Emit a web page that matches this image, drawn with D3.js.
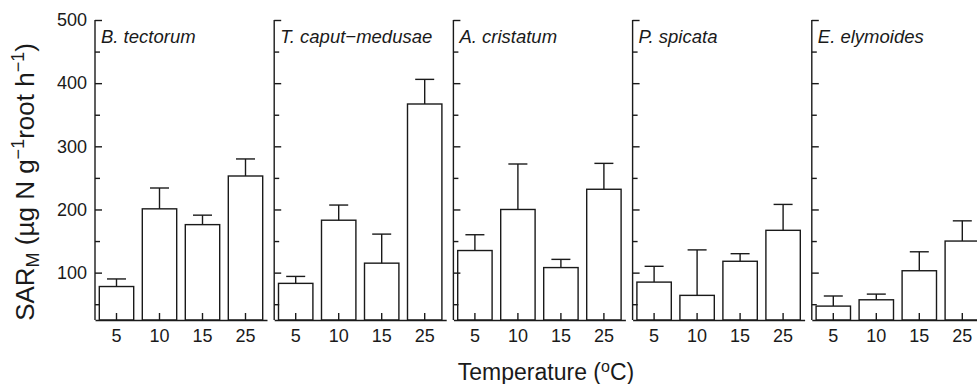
<!DOCTYPE html>
<html>
<head>
<meta charset="utf-8">
<script src="https://cdn.jsdelivr.net/npm/d3@7"></script>
<style>
  body { margin: 0; background: #fff; }
  text { font-family: "Liberation Sans", Arial, sans-serif; fill: #1a1a1a; }
</style>
</head>
<body>
<div id="chart"></div>
<script>
// panels, one per species
const species = ["B. tectorum", "T. caput\u2212medusae", "A. cristatum", "P. spicata", "E. elymoides"];
const temps = ["5", "10", "15", "25"];

// mean SAR_M per temperature, one array per species
const meanTectorum = [78, 201, 176, 253];
const meanCaput = [83, 183, 115, 367];
const meanCristatum = [135, 200, 108, 232];
const meanSpicata = [85, 64, 118, 167];
const meanElymoides = [47, 57, 103, 150];

// error bar length (upper side only)
const errTectorum = [12, 33, 15, 27];
const errCaput = [11, 24, 46, 39];
const errCristatum = [25, 72, 13, 41];
const errSpicata = [25, 72, 12, 41];
const errElymoides = [16, 9, 30, 32];

const yMajor = [100, 200, 300, 400, 500];
const yMinor = [50, 150, 250, 350, 450];

const means = [meanTectorum, meanCaput, meanCristatum, meanSpicata, meanElymoides];
const errs = [errTectorum, errCaput, errCristatum, errSpicata, errElymoides];

const width = 977, height = 384;
const svg = d3.select("#chart").append("svg")
    .attr("width", width)
    .attr("height", height);

const marginLeft = 95, plotTop = 20, plotBottom = 320;
const panelStep = 179.2, panelWidth = 172;
const ink = "#1a1a1a";

const y = d3.scaleLinear().domain([25, 500]).range([plotBottom, plotTop]);
const x = d3.scaleBand().domain(temps).range([0, panelWidth]).paddingInner(0.2).paddingOuter(0.1);

species.forEach(function(name, i) {
    const g = svg.append("g").attr("transform", `translate(${marginLeft + i * panelStep},0)`);

    // bars
    g.selectAll(".bar")
        .data(temps)
        .join("rect")
        .attr("class", "bar")
        .attr("x", d => x(d))
        .attr("width", x.bandwidth())
        .attr("y", (d, j) => y(means[i][j]))
        .attr("height", (d, j) => plotBottom - y(means[i][j]))
        .attr("fill", "#fff")
        .attr("stroke", ink)
        .attr("stroke-width", 1.4);

    // error bars
    g.selectAll(".err")
        .data(temps)
        .join("line")
        .attr("class", "err")
        .attr("x1", d => x(d) + x.bandwidth() / 2)
        .attr("x2", d => x(d) + x.bandwidth() / 2)
        .attr("y1", (d, j) => y(means[i][j]))
        .attr("y2", (d, j) => y(means[i][j] + errs[i][j]))
        .attr("stroke", ink)
        .attr("stroke-width", 1.4);

    g.selectAll(".cap")
        .data(temps)
        .join("line")
        .attr("class", "cap")
        .attr("x1", d => x(d) + x.bandwidth() / 2 - 9.5)
        .attr("x2", d => x(d) + x.bandwidth() / 2 + 9.5)
        .attr("y1", (d, j) => y(means[i][j] + errs[i][j]))
        .attr("y2", (d, j) => y(means[i][j] + errs[i][j]))
        .attr("stroke", ink)
        .attr("stroke-width", 1.4);

    // y axis, ticks pointing inward
    const yAxis = g.append("g")
        .call(d3.axisRight(y).tickValues(yMajor).tickSize(7).tickSizeOuter(0).tickFormat(""));
    yAxis.select(".domain").remove();
    yAxis.append("line")
        .attr("y1", plotTop).attr("y2", plotBottom)
        .attr("stroke", ink).attr("stroke-width", 1.4);
    yAxis.selectAll(".tick line").attr("stroke", ink).attr("stroke-width", 1.4);

    const yMin = g.append("g")
        .call(d3.axisRight(y).tickValues(yMinor).tickSize(5).tickFormat(""));
    yMin.select(".domain").remove();
    yMin.selectAll(".tick line").attr("stroke", ink).attr("stroke-width", 1.4);

    if (i === 0) {
        g.append("g")
            .call(d3.axisLeft(y).tickValues(yMajor).tickSize(0))
            .call(a => a.select(".domain").remove())
            .selectAll("text")
            .attr("x", -8)
            .attr("font-size", 18)
            .attr("font-family", "Liberation Sans, Arial, sans-serif")
            .attr("fill", ink);
    }

    // x axis, ticks pointing up into the bars
    const xAxis = g.append("g")
        .attr("transform", `translate(0,${plotBottom})`)
        .call(d3.axisTop(x).tickSize(7).tickSizeOuter(0).tickFormat(""));
    xAxis.select(".domain").attr("stroke", ink).attr("stroke-width", 1.4);
    xAxis.selectAll(".tick line").attr("stroke", ink).attr("stroke-width", 1.4);

    g.append("g")
        .selectAll("text")
        .data(temps)
        .join("text")
        .attr("x", d => x(d) + x.bandwidth() / 2)
        .attr("y", 342)
        .attr("text-anchor", "middle")
        .attr("font-size", 18)
        .text(d => d);

    // panel label
    g.append("text")
        .attr("x", 6)
        .attr("y", 43)
        .attr("font-size", 18.5)
        .attr("font-style", "italic")
        .text(name);
});

// axis titles
const yTitle = svg.append("text")
    .attr("transform", "translate(34,182) rotate(-90)")
    .attr("text-anchor", "middle")
    .attr("font-size", 26);
yTitle.append("tspan").text("SAR");
yTitle.append("tspan").attr("font-size", 18).attr("dy", 5).text("M");
yTitle.append("tspan").attr("dy", -5).text(" (\u00b5g N g");
yTitle.append("tspan").attr("font-size", 18).attr("dy", -10).text("\u22121");
yTitle.append("tspan").attr("dy", 10).text("root h");
yTitle.append("tspan").attr("font-size", 18).attr("dy", -10).text("\u22121");
yTitle.append("tspan").attr("dy", 10).text(")");

const xTitle = svg.append("text")
    .attr("x", 546)
    .attr("y", 380)
    .attr("text-anchor", "middle")
    .attr("font-size", 23);
xTitle.append("tspan").text("Temperature (");
xTitle.append("tspan").attr("font-size", 16).attr("dy", -8).text("o");
xTitle.append("tspan").attr("dy", 8).text("C)");
</script>
</body>
</html>
